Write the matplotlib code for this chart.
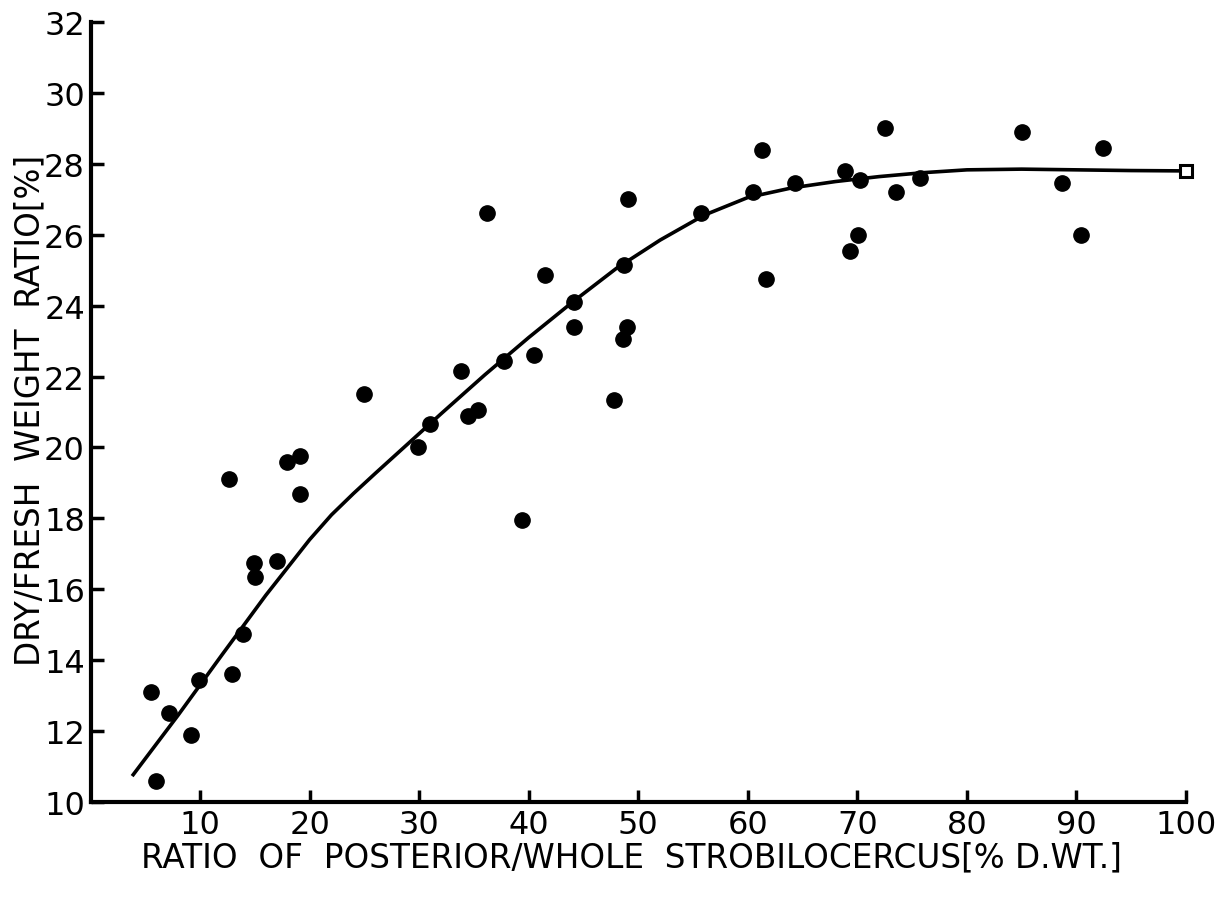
import matplotlib
matplotlib.use('Agg')
import matplotlib.pyplot as plt

# Observed points: ratio of posterior/whole strobilocercus [% D.WT.] vs dry/fresh weight ratio [%]
x_ratio = [5.5, 6.0, 7.2, 9.2, 9.9, 12.6, 12.9, 13.9, 14.9, 15.0,
           17.0, 17.9, 19.1, 19.1, 25.0, 29.9, 31.0, 33.8, 34.5, 35.4,
           36.2, 37.7, 39.4, 40.5, 41.45, 44.1, 44.15, 47.8, 48.6, 48.95,
           48.7, 49.1, 55.7, 60.45, 61.3, 61.7, 64.35, 68.9, 70.2, 69.3,
           70.1, 72.55, 73.5, 75.75, 85.05, 88.65, 90.45, 92.4]
y_ratio = [13.1, 10.6, 12.5, 11.9, 13.45, 19.1, 13.6, 14.75, 16.75, 16.35,
           16.8, 19.6, 19.75, 18.7, 21.5, 20.0, 20.65, 22.15, 20.9, 21.05,
           26.6, 22.45, 17.95, 22.6, 24.85, 23.4, 24.1, 21.35, 23.05, 23.4,
           25.15, 27.0, 26.6, 27.2, 28.4, 24.75, 27.45, 27.8, 27.55, 25.55,
           26.0, 29.0, 27.2, 27.6, 28.9, 27.45, 26.0, 28.45]

# Fitted curve
curve_x = [3.8, 8, 12, 16, 20, 22, 24, 26, 28, 32, 36, 40, 44, 48, 52,
           56, 60, 64, 68, 72, 76, 80, 85, 90, 95, 100]
curve_y = [10.73, 12.45, 14.15, 15.83, 17.4, 18.1, 18.7, 19.27, 19.83, 20.95,
           22.05, 23.1, 24.1, 25.05, 25.85, 26.55, 27.05, 27.32, 27.5, 27.64,
           27.75, 27.83, 27.85, 27.83, 27.81, 27.8]

# Open square end point
end_x = [100.0]
end_y = [27.8]

x_ticks = [10, 20, 30, 40, 50, 60, 70, 80, 90, 100]
y_ticks = [10, 12, 14, 16, 18, 20, 22, 24, 26, 28, 30, 32]

plt.rcParams['font.family'] = ['DejaVu Sans']

fig = plt.figure(figsize=(12.31, 9.03), dpi=100)
L, B = 90.5 / 1231, 100 / 903
W, H = (1186 - 90.5) / 1231, (803 - 23) / 903
ax = fig.add_axes([L, B, W, H])

ax.plot(curve_x, curve_y, color='black', lw=2.6, solid_capstyle='butt',
        solid_joinstyle='round', zorder=2)
ax.plot(x_ratio, y_ratio, 'o', color='black', ms=11, zorder=3)
ax.plot(end_x, end_y, 's', mfc='white', mec='black', ms=8, mew=2.2, zorder=4,
        clip_on=False)

ax.set_xlim(0, 100)
ax.set_ylim(10, 32)
ax.set_xticks(x_ticks)
ax.set_yticks(y_ticks)
for s in ['top', 'right']:
    ax.spines[s].set_visible(False)
for s in ['left', 'bottom']:
    ax.spines[s].set_linewidth(3)
ax.tick_params(direction='in', length=9, width=2.5, labelsize=23, colors='black')
ax.tick_params(axis='x', pad=5)
ax.tick_params(axis='y', pad=4)

fig.text(631 / 1231, 1 - 858 / 903,
         'RATIO  OF  POSTERIOR/WHOLE  STROBILOCERCUS[% D.WT.]',
         ha='center', va='center', fontsize=23.5)
fig.text(30 / 1231, 1 - 410 / 903, 'DRY/FRESH  WEIGHT  RATIO[%]',
         ha='center', va='center', rotation=90, fontsize=23.5)

fig.savefig('out.png', dpi=100, facecolor='white')
